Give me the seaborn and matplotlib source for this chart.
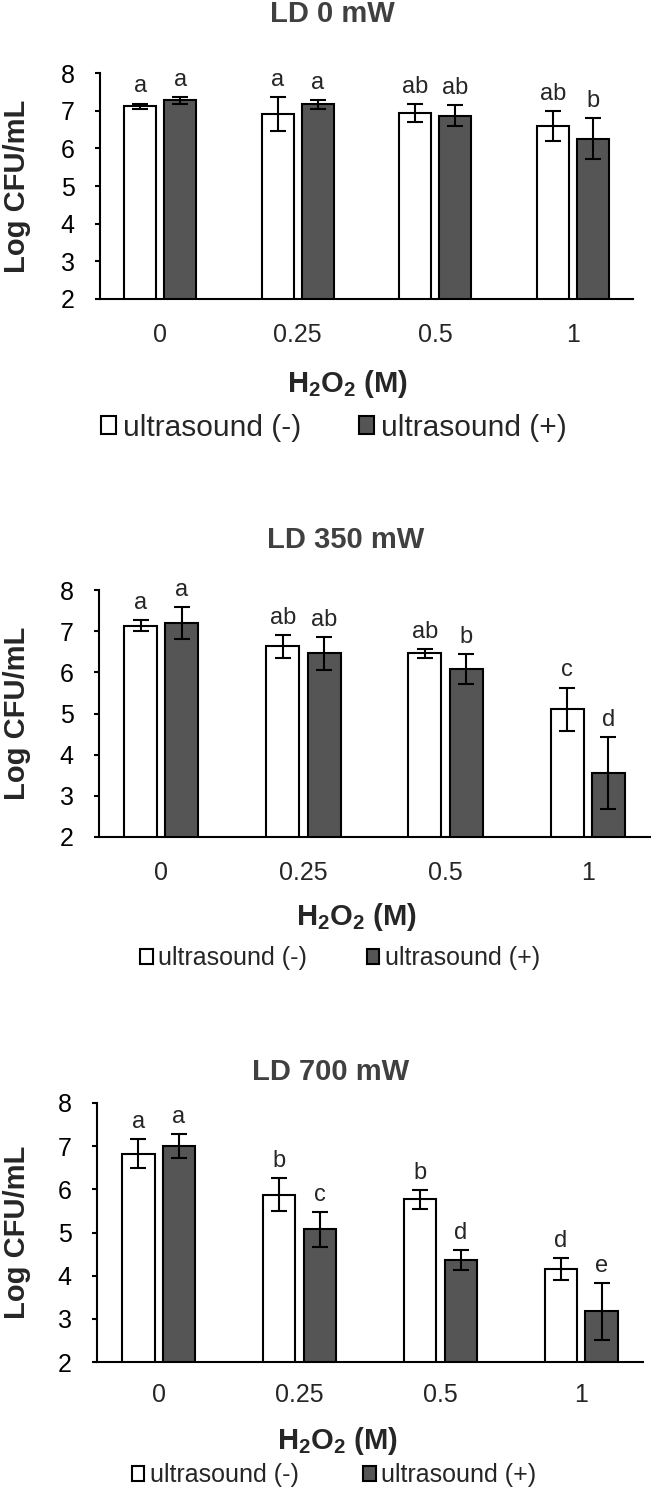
import numpy as np
import pandas as pd
import matplotlib.pyplot as plt
import seaborn as sns
from matplotlib.patches import Patch

# data
concentrations = ["0", "0.25", "0.5", "1"]
groups = ["ultrasound (-)", "ultrasound (+)"]
titles = ["LD 0 mW", "LD 350 mW", "LD 700 mW"]

ld0_minus = [7.12, 6.90, 6.93, 6.60]
ld0_plus = [7.27, 7.17, 6.87, 6.26]
ld0_minus_sd = [0.07, 0.45, 0.24, 0.40]
ld0_plus_sd = [0.10, 0.12, 0.27, 0.54]
ld0_letters_minus = ["a", "a", "ab", "ab"]
ld0_letters_plus = ["a", "a", "ab", "b"]

ld350_minus = [7.13, 6.63, 6.46, 5.10]
ld350_plus = [7.19, 6.46, 6.08, 3.55]
ld350_minus_sd = [0.13, 0.27, 0.11, 0.53]
ld350_plus_sd = [0.39, 0.40, 0.37, 0.88]
ld350_letters_minus = ["a", "ab", "ab", "c"]
ld350_letters_plus = ["a", "ab", "b", "d"]

ld700_minus = [6.83, 5.88, 5.77, 4.16]
ld700_plus = [7.00, 5.07, 4.36, 3.17]
ld700_minus_sd = [0.34, 0.39, 0.22, 0.25]
ld700_plus_sd = [0.28, 0.40, 0.24, 0.66]
ld700_letters_minus = ["a", "b", "b", "d"]
ld700_letters_plus = ["a", "c", "d", "e"]

panels = [
    (ld0_minus, ld0_plus, ld0_minus_sd, ld0_plus_sd, ld0_letters_minus, ld0_letters_plus),
    (ld350_minus, ld350_plus, ld350_minus_sd, ld350_plus_sd, ld350_letters_minus, ld350_letters_plus),
    (ld700_minus, ld700_plus, ld700_minus_sd, ld700_plus_sd, ld700_letters_minus, ld700_letters_plus),
]

sns.set_style("white")
plt.rcParams["font.family"] = ["Liberation Sans", "DejaVu Sans"]
plt.rcParams["mathtext.fontset"] = "custom"
plt.rcParams["mathtext.rm"] = "Liberation Sans:bold"
plt.rcParams["mathtext.bf"] = "Liberation Sans:bold"

W, H = 651, 1490
fig = plt.figure(figsize=(W / 100, H / 100), dpi=100)

# layout in pixels: left, right, top(y=8), bottom(y=2)
boxes = [(100, 633, 73, 299), (99, 650, 590, 837), (97, 643, 1103, 1362)]
title_pos = [(332, 22), (346, 548), (331, 1080)]
xlabel_pos = [(347, 368), (356, 901), (337, 1425)]
xtick_pad = [17, 17, 15]
legend_pos = [(334, 428), (340, 958), (334, 1475)]
legend_size = [21.5, 18, 18]
legend_colsp = [1.95, 2.4, 2.6]
ylabel_x = 31

colors = ["white", "#555555"]

for i, (mn, pl, mn_sd, pl_sd, let_mn, let_pl) in enumerate(panels):
    l, r, t, b = boxes[i]
    ax = fig.add_axes([l / W, 1 - b / H, (r - l) / W, (b - t) / H])

    df = pd.DataFrame({
        "conc": concentrations * 2,
        "group": [groups[0]] * 4 + [groups[1]] * 4,
        "value": mn + pl,
    })
    sns.barplot(data=df, x="conc", y="value", hue="group", order=concentrations,
                hue_order=groups, palette=colors, edgecolor="black", linewidth=1.5,
                width=0.58, gap=0.2, errorbar=None, legend=False, ax=ax)

    sds = [mn_sd, pl_sd]
    letters = [let_mn, let_pl]
    bar_groups = list(ax.containers)
    for k, cont in enumerate(bar_groups):
        for j, bar in enumerate(cont):
            x = bar.get_x() + bar.get_width() / 2
            h = bar.get_height()
            ax.errorbar(x, h, yerr=sds[k][j], fmt="none", ecolor="black",
                        elinewidth=1.5, capsize=5.5, capthick=1.5)
            ax.annotate(letters[k][j], (x, h + sds[k][j]), xytext=(0, 8),
                        textcoords="offset points", ha="center", va="baseline",
                        fontsize=17, annotation_clip=False)

    ax.set_ylim(2, 8)
    ax.set_yticks(range(2, 9))
    sns.despine(ax=ax)
    for s in ["left", "bottom"]:
        ax.spines[s].set_color("black")
        ax.spines[s].set_linewidth(1.5)
    ax.tick_params(axis="y", direction="out", length=3.6, width=1.5, labelsize=18,
                   left=True, pad=14.5, colors="black")
    ax.tick_params(axis="x", length=0, labelsize=18, pad=xtick_pad[i])

    ax.set_ylabel("Log CFU/mL", fontsize=21, fontweight="bold")
    ax.yaxis.set_label_coords((ylabel_x - l) / (r - l), 0.5)

    xl, yl = xlabel_pos[i]
    ax.set_xlabel(r"H$_2$O$_2$ (M)", fontsize=21, fontweight="bold", va="top")
    ax.xaxis.set_label_coords((xl - l) / (r - l), -(yl - b) / (b - t))

    tx, ty = title_pos[i]
    fig.text(tx / W, 1 - ty / H, titles[i], ha="center", va="baseline",
             fontsize=21, fontweight="bold", color="#404040")

    handles = [Patch(facecolor=c, edgecolor="black", linewidth=1.5) for c in colors]
    lx, ly = legend_pos[i]
    fig.legend(handles, groups, loc="center", bbox_to_anchor=(lx / W, 1 - ly / H),
               ncol=2, frameon=False, fontsize=legend_size[i], handlelength=0.5,
               handleheight=0.55, handletextpad=0.22, columnspacing=legend_colsp[i],
               borderpad=0, borderaxespad=0)

fig.savefig("out.png", dpi=100)
